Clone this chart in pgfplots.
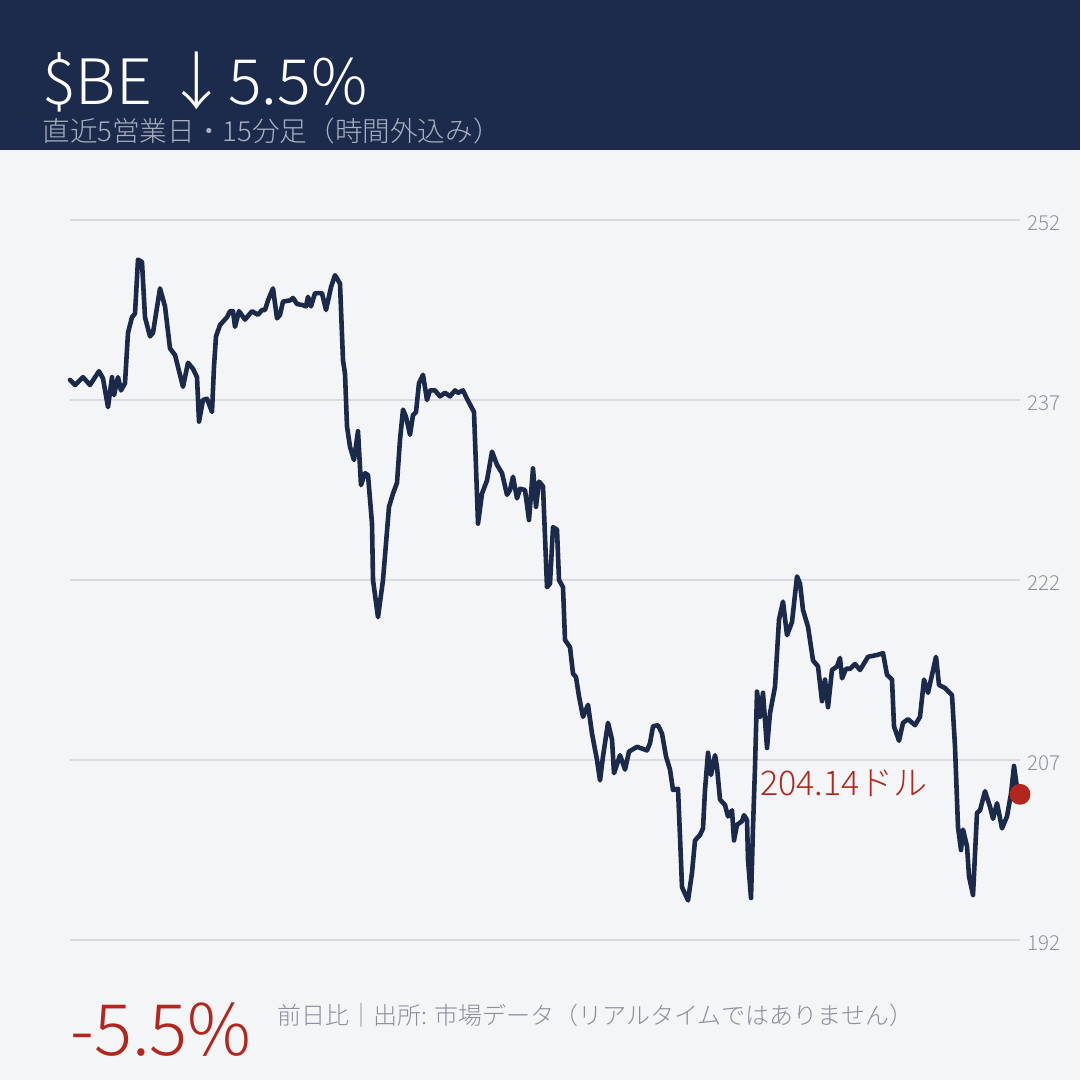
\documentclass[border=0pt]{standalone}
\usepackage{pgfplots}
\pgfplotsset{compat=1.18}
\usepackage{pgfplotstable}
\usepackage{fontspec}
\setmainfont{Noto Sans CJK JP}[UprightFont=* Light]
\definecolor{navy}{HTML}{1C2A4B}
\definecolor{linec}{HTML}{1B2A4B}
\definecolor{bgc}{HTML}{F4F5F7}
\definecolor{gridc}{HTML}{D9DBE0}
\definecolor{tickc}{HTML}{8E939E}
\definecolor{subc}{HTML}{A9B0BF}
\definecolor{redc}{HTML}{B3261E}
\definecolor{footc}{HTML}{8A8F9A}
\pgfplotstableread{
x y
70 238.67
75 238.25
83 238.9
90 238.25
99 239.4
103 238.8
108 236.4
112 238.9
114 237.4
118 238.9
121 237.8
125 238.4
128 242.6
132 243.9
135 244.2
138 248.7
142 248.5
145 243.9
150 242.3
153 242.6
160 246.3
165 244.8
170 241.3
175 240.75
183 238.1
188 240.1
193 239.6
197 238.9
199 235.2
203 237
207 237.1
212 236.0
214 239.8
216 242.3
220 243.25
227 243.9
230 244.4
233 244.4
235 243.1
239 244.4
245 243.7
252 244.4
258 244.1
262 244.5
265 244.5
268 245.3
273 246.3
277 243.8
280 244.1
283 245.2
290 245.3
293 245.5
297 245.0
303 244.9
306 244.8
308 245.6
311 244.8
315 245.9
322 245.9
326 244.5
331 246.4
335 247.4
340 246.7
343 240.3
345 239.2
347 234.8
350 233.1
354 232
358 234.4
361 229.9
365 230.9
368 230.75
372 226.7
373 222
378 218.9
383 222
389 228.1
393 229.2
397 230.1
400 233.7
403 236.2
406 235.6
410 234.1
413 235.75
416 236.0
419 238.4
423 239.1
427 237
430 237.8
435 237.8
440 237.3
445 237.6
450 237.3
455 237.8
458 237.6
463 237.8
467 237.1
474 236.0
476 231.4
478 226.7
482 229.2
487 230.3
492 232.7
497 231.6
502 230.9
507 229.1
510 229.5
513 230.6
517 228.8
520 229.6
525 229.5
529 227
533 231.3
536 228.1
539 230.2
543 229.8
547 221.4
550 221.7
553 226.4
557 226.2
559 222
563 221.4
565 217
570 216.4
573 214.2
576 213.9
579 212.3
583 210.6
588 211.6
592 209.2
597 207
600 205.3
603 207.3
608 210.1
612 208.7
614 205.9
620 207.4
625 206.2
629 207.7
637 208.1
647 207.8
650 208.4
653 209.8
658 209.9
662 209.2
666 207.3
670 206.2
673 204.5
678 204.6
680 200.6
682 196.4
688 195.3
692 197.6
695 200.3
700 200.75
703 201.3
705 204.5
708 207.6
711 205.75
715 207.4
717 206.4
720 203.7
725 203.25
728 202.3
732 202.8
734 200.3
737 201.6
742 201.9
744 202.4
747 202.0
748 198.7
751 195.5
753 201.4
755 206.4
757 212.7
760 210.6
763 212.6
767 208.0
770 210.9
775 213.1
779 218.7
783 220.2
787 217.4
792 218.5
797 222.3
800 221.7
803 219.5
808 218.1
813 215.3
818 214.8
822 211.9
825 213.7
828 211.4
832 214.5
837 214.8
840 215.5
842 213.8
846 214.6
850 214.6
855 215
860 214.5
868 215.6
877 215.75
883 215.9
887 214.1
892 213.7
894 209.8
899 208.6
903 210.1
908 210.4
915 209.9
920 210.6
924 213.7
928 212.6
932 214.1
936 215.6
939 213.25
945 213
952 212.4
955 208.1
958 201.4
961 199.5
963 201.2
967 199.8
969 197.3
973 195.75
977 202.6
980 202.8
985 204.4
990 203.1
993 202.1
997 203.4
1002 201.3
1007 202.3
1011 204.2
1014 206.5
1017 204.7
1020 204.14
}\prices
\begin{document}
\begin{tikzpicture}[x=0.5pt,y=0.5pt]
\fill[bgc] (0,0) rectangle (1080,1080);
\fill[navy] (0,930) rectangle (1080,1080);
\node[anchor=base west, inner sep=0, text=white, font=\fontsize{31.3}{32}\selectfont] at (42,975) {\$BE ↓5.5\%};
\node[anchor=base west, inner sep=0, text=subc, font=\fontsize{13.8}{14}\selectfont] at (42,938) {直近5営業日・15分足（時間外込み）};
\begin{axis}[
  at={(35pt,70pt)}, anchor=south west,
  width=475pt, height=360pt, scale only axis,
  xmin=70, xmax=1020, ymin=192, ymax=252,
  clip=false,
  axis line style={draw=none},
  xtick=\empty,
  ytick={192,207,222,237,252},
  yticklabel pos=right,
  major tick length=0pt,
  ymajorgrids,
  grid style={gridc, line width=1pt},
  yticklabel style={text=tickc, font=\fontsize{10.3}{11}\selectfont, /pgf/number format/assume math mode=true, yshift=-1.5pt},
]
\addplot[linec, line width=2.3pt, line join=round, line cap=round] table[x=x,y=y] {\prices};
\addplot[only marks, mark=*, mark size=5pt, mark options={fill=redc, draw=redc}] coordinates {(1020,204.14)};
\node[anchor=base west, inner sep=0, text=redc, font=\fontsize{17}{18}\selectfont] at (axis cs:760,204.0) {204.14ドル};
\end{axis}
\node[anchor=base west, inner sep=0, text=redc, font=\fontsize{35.5}{36}\selectfont] at (70,25) {-5.5\%};
\node[anchor=base west, inner sep=0, text=footc, font=\fontsize{12}{12}\selectfont] at (277,55) {前日比｜出所: 市場データ（リアルタイムではありません）};
\pgfresetboundingbox
\path (0,0) rectangle (1080,1080);
\end{tikzpicture}
\end{document}
